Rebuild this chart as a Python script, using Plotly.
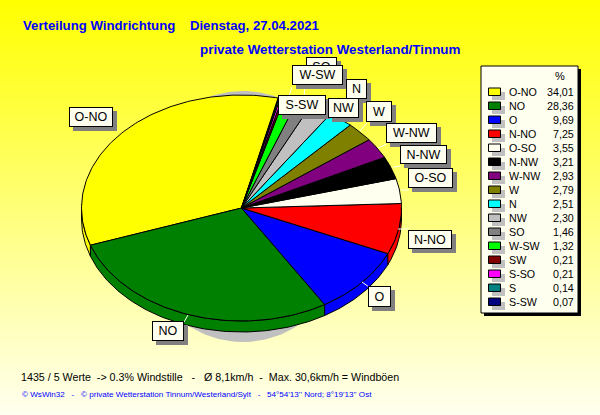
import numpy as np
import plotly.graph_objects as go

# --- data ---
directions = ["O-NO", "NO", "O", "N-NO", "O-SO", "N-NW", "W-NW", "W", "N", "NW", "SO", "W-SW", "SW", "S-SO", "S", "S-SW"]
shares = [34.01, 28.36, 9.69, 7.25, 3.55, 3.21, 2.93, 2.79, 2.51, 2.30, 1.46, 1.32, 0.21, 0.21, 0.14, 0.07]
share_text = ["34,01", "28,36", "9,69", "7,25", "3,55", "3,21", "2,93", "2,79", "2,51", "2,30", "1,46", "1,32", "0,21", "0,21", "0,14", "0,07"]
colors = ["#FFFF00", "#008000", "#0000FF", "#FF0000", "#FFFFF0", "#000000", "#800080", "#808000",
          "#00FFFF", "#C0C0C0", "#808080", "#00FF00", "#800000", "#FF00FF", "#008080", "#000080"]

title1 = "Verteilung Windrichtung\u00a0\u00a0\u00a0\u00a0Dienstag, 27.04.2021"
title2 = "private Wetterstation Westerland/Tinnum"
info = "1435 / 5 Werte\u00a0\u00a0-> 0.3% Windstille\u00a0\u00a0\u00a0-\u00a0\u00a0\u00a0Ø 8,1km/h\u00a0\u00a0-\u00a0\u00a0Max. 30,6km/h = Windböen"
footer = "© WsWin32\u00a0\u00a0\u00a0-\u00a0\u00a0\u00a0© private Wetterstation Tinnum/Westerland/Sylt\u00a0\u00a0\u00a0-\u00a0\u00a0\u00a054°54'13'' Nord; 8°19'13'' Ost"

# --- layout constants (pixel space) ---
CX, CY, RX, RY, DEPTH, START = 241.5, 208, 160, 113, 11, 76.8
FONT = "Liberation Sans"
BOX_FILL = "#FFFFF0"

label_boxes = [  # drawn in this order: text, left, top, right, bottom
    ("SO", 307, 58, 337, 77), ("W-SW", 293, 66, 343, 85), ("N", 347, 80, 367, 99),
    ("S-SW", 279, 96, 326, 115), ("NW", 329, 99, 359, 118), ("W", 367, 102, 392, 122),
    ("W-NW", 387, 124, 437, 143), ("N-NW", 401, 146, 447, 164), ("O-SO", 409, 169, 453, 188),
    ("N-NO", 409, 231, 452, 249), ("O", 369, 287, 391, 307), ("NO", 153, 322, 184, 341),
    ("O-NO", 70, 108, 113, 127),
]
leaders = [((113, 127), (118, 131)), ((292, 87), (289, 96)), ((305, 87), (304, 96)),
           ((367, 123), (360, 131)), ((387, 144), (378, 148)), ((393, 167), (401, 166)),
           ((401, 190), (409, 190)), ((398, 229), (409, 229)), ((362, 282), (369, 287)),
           ((188, 315), (184, 322))]

fig = go.Figure()

# gradient background
fig.add_trace(go.Heatmap(x=[0, 600], y=[0, 415], z=[[0, 0], [1, 1]], zsmooth="best", showscale=False,
                         colorscale=[[0, "#FFFF00"], [1, "#FFFFF0"]], hoverinfo="skip"))

# drop shadow of the pie
t = np.radians(np.arange(0, 361, 2))
fig.add_trace(go.Scatter(x=243 + 111 * np.cos(t), y=216.5 + 125.5 * np.sin(t), mode="lines", fill="toself",
                         fillcolor="#C0C0C0", line=dict(width=0), hoverinfo="skip"))


def rim(a0, a1):
    n = max(2, int(abs(a1 - a0)) + 2)
    a = np.radians(np.linspace(a0, a1, n))
    return CX + RX * np.cos(a), CY - RY * np.sin(a)


edges = START + np.concatenate([[0], np.cumsum(shares)]) * 360 / sum(shares)

# pie side wall
for i, c in enumerate(colors):
    a0, a1 = max(edges[i], 180), min(edges[i + 1], 360)
    if a1 > a0:
        x, y = rim(a0, a1)
        fig.add_trace(go.Scatter(x=np.r_[x, x[::-1], x[0]], y=np.r_[y, y[::-1] + DEPTH, y[0]], mode="lines",
                                 fill="toself", fillcolor=c, line=dict(color="#000000", width=1), hoverinfo="skip"))

# pie top
for i, c in enumerate(colors):
    x, y = rim(edges[i], edges[i + 1])
    fig.add_trace(go.Scatter(x=np.r_[CX, x, CX], y=np.r_[CY, y, CY], mode="lines", fill="toself", fillcolor=c,
                             line=dict(color="#000000", width=1), hoverinfo="skip"))

# leader lines
lx, ly = [], []
for p, q in leaders:
    lx += [p[0], q[0], None]
    ly += [p[1], q[1], None]
fig.add_trace(go.Scatter(x=lx, y=ly, mode="lines", line=dict(color="#FFFFF0", width=1), hoverinfo="skip"))

shapes = [
    dict(type="rect", x0=484, y0=69, x1=581, y1=316, fillcolor="#000000", line=dict(width=0)),
    dict(type="rect", x0=481, y0=66, x1=578, y1=313, fillcolor=BOX_FILL, line=dict(color="#000000", width=1)),
]
annotations = []


def text(x, y, s, size=11, color="#000000", anchor="left", bold=False):
    shift = {"left": -2, "right": 2, "center": 0}[anchor]
    annotations.append(dict(x=x + shift, y=y, text=f"<b>{s}</b>" if bold else s, showarrow=False, xanchor=anchor, yanchor="middle",
                            xref="x", yref="y", font=dict(family=FONT, size=size, color=color)))


# legend
text(560, 76, "%", anchor="center")
for i, (d, v, c) in enumerate(zip(directions, share_text, colors)):
    ym = 92 + 14 * i
    shapes.append(dict(type="rect", x0=492, y0=ym, x1=505, y1=ym + 8, fillcolor="#C0C0C0", line=dict(width=0)))
    shapes.append(dict(type="rect", x0=488.5, y0=ym - 4, x1=500.5, y1=ym + 3.5, fillcolor=c, line=dict(color="#000000", width=1)))
    text(508.5, ym, d, size=10.7)
    text(573.5, ym, v, size=10.7, anchor="right")

# pie labels
for s, l, tp, r, b in label_boxes:
    w, h = r - l, b - tp
    annotations.append(dict(x=l + 3, y=tp + 3, text=" ", showarrow=False, xanchor="left", yanchor="top", xref="x", yref="y",
                            width=w + 1, height=h + 1, bgcolor="#808080", borderpad=0, borderwidth=0))
    annotations.append(dict(x=l - 1, y=tp - 1, text=s, showarrow=False, xanchor="left", yanchor="top", xref="x", yref="y",
                            width=w - 1, height=h - 1, bgcolor=BOX_FILL, bordercolor="#000000", borderwidth=1, borderpad=0,
                            align="center", valign="middle", font=dict(family=FONT, size=12.5, color="#000000")))

# texts
text(23, 25, title1, size=13.2, color="#0000FF", bold=True)
text(200, 49, title2, size=13.4, color="#0000FF", bold=True)
text(21, 377, info, size=10.7)
text(22, 394, footer, size=8.1, color="#0000FF")

fig.update_layout(width=600, height=415, margin=dict(l=0, r=0, t=0, b=0), showlegend=False, hovermode=False,
                  paper_bgcolor="#FFFFF0", plot_bgcolor="#FFFFF0",
                  xaxis=dict(range=[0, 600], visible=False, fixedrange=True),
                  yaxis=dict(range=[415, 0], visible=False, fixedrange=True),
                  shapes=shapes, annotations=annotations)

fig.write_html("out.html", config=dict(displayModeBar=False),
               post_script="document.body.style.margin='0';document.body.style.overflow='hidden';")
